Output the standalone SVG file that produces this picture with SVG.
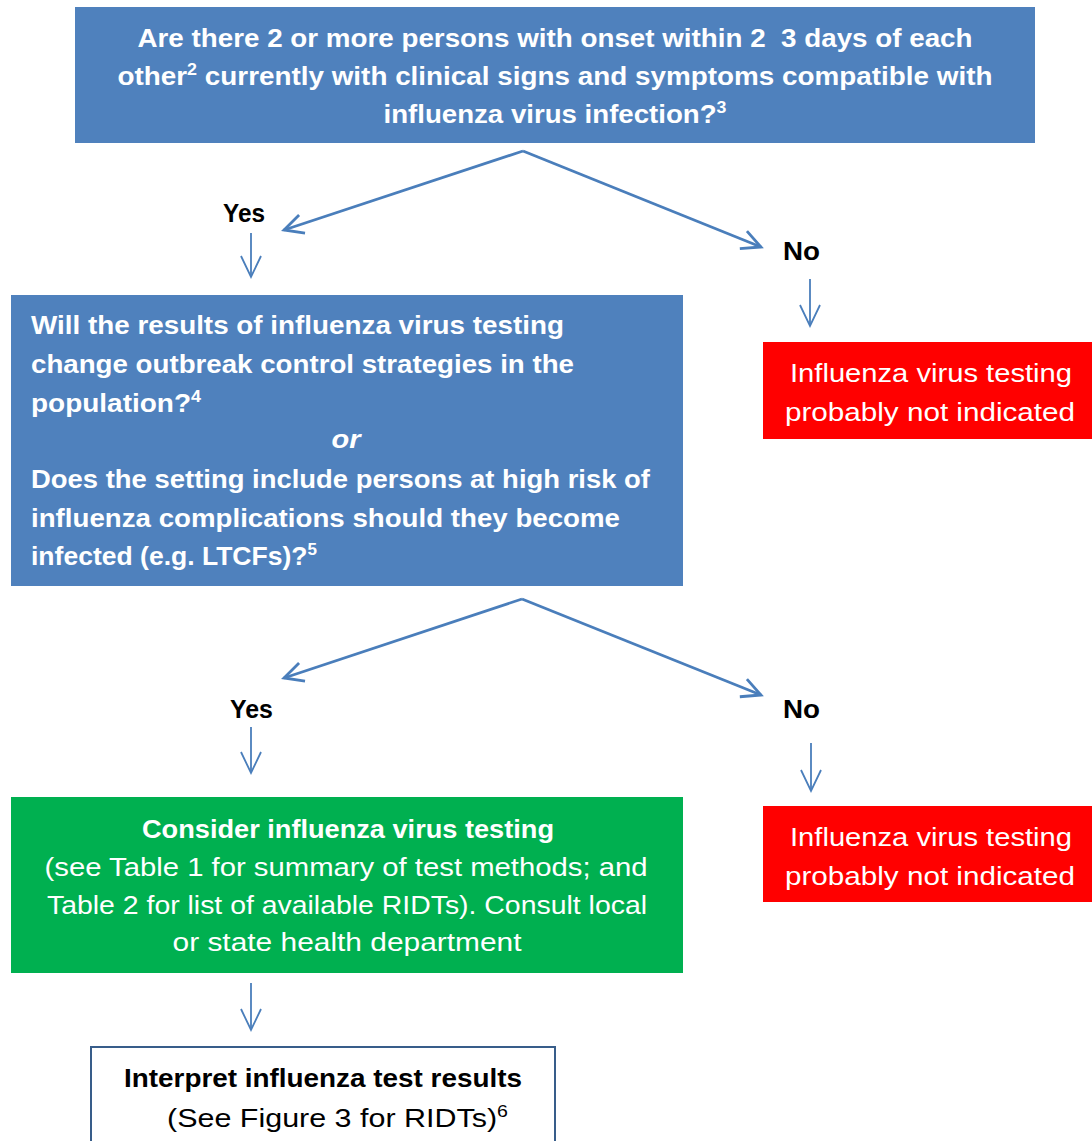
<svg xmlns="http://www.w3.org/2000/svg" width="1092" height="1141" viewBox="0 0 1092 1141">
<defs>
<style>
.t{font-family:"Liberation Sans",Arial,sans-serif;fill:#fff;font-size:26.5px}
.b{font-weight:bold}
.k{fill:#000}
.c{text-anchor:middle}
.sup{font-size:17px}
.con{stroke:#4A7EBB;fill:none;stroke-linejoin:miter}
.diag{stroke-width:2.8}
.down{stroke-width:1.8}
</style>
<marker id="ah" markerUnits="userSpaceOnUse" markerWidth="40" markerHeight="40" refX="0" refY="0" orient="auto" overflow="visible" viewBox="-30 -20 40 40">
<path d="M -19 -9.5 L 0 0 L -19 9.5" fill="none" stroke="#4A7EBB" stroke-width="2.8"/>
</marker>
<marker id="ahs" markerUnits="userSpaceOnUse" markerWidth="40" markerHeight="40" refX="0" refY="0" orient="auto" overflow="visible" viewBox="-30 -20 40 40">
<path d="M -21 -10 L 0 0 L -21 10" fill="none" stroke="#4A7EBB" stroke-width="1.8"/>
</marker>
</defs>

<g id="q1">
<rect x="75" y="7" width="960" height="136" fill="#4F81BD"/>
<text class="t b c" x="555" y="47" textLength="835" lengthAdjust="spacingAndGlyphs">Are there 2 or more persons with onset within 2&#160; 3 days of each</text>
<text class="t b c" x="555" y="85" textLength="875" lengthAdjust="spacingAndGlyphs">other<tspan class="sup" dy="-10">2</tspan><tspan dy="10"> currently with clinical signs and symptoms compatible with</tspan></text>
<text class="t b c" x="555" y="123" textLength="343" lengthAdjust="spacingAndGlyphs">influenza virus infection?<tspan class="sup" dy="-10">3</tspan></text>
</g>

<g id="yes1"><text class="t b k" x="223" y="222" textLength="42" lengthAdjust="spacingAndGlyphs">Yes</text></g>
<g id="no1"><text class="t b k" x="783" y="260" textLength="37" lengthAdjust="spacingAndGlyphs">No</text></g>

<g id="q2">
<rect x="11" y="295" width="672" height="291" fill="#4F81BD"/>
<text class="t b" x="31" y="334" textLength="533" lengthAdjust="spacingAndGlyphs">Will the results of influenza virus testing</text>
<text class="t b" x="31" y="373" textLength="543" lengthAdjust="spacingAndGlyphs">change outbreak control strategies in the</text>
<text class="t b" x="31" y="412" textLength="170" lengthAdjust="spacingAndGlyphs">population?<tspan class="sup" dy="-10">4</tspan></text>
<text class="t b c" x="346" y="448" font-style="italic" textLength="29" lengthAdjust="spacingAndGlyphs">or</text>
<text class="t b" x="31" y="488" textLength="619" lengthAdjust="spacingAndGlyphs">Does the setting include persons at high risk of</text>
<text class="t b" x="31" y="527" textLength="589" lengthAdjust="spacingAndGlyphs">influenza complications should they become</text>
<text class="t b" x="31" y="565" textLength="286" lengthAdjust="spacingAndGlyphs">infected (e.g. LTCFs)?<tspan class="sup" dy="-10">5</tspan></text>
</g>

<g id="notind1">
<rect x="763" y="342" width="329" height="97" fill="#FF0000"/>
<text class="t c" x="931" y="382" textLength="282" lengthAdjust="spacingAndGlyphs">Influenza virus testing</text>
<text class="t c" x="930" y="421" textLength="290" lengthAdjust="spacingAndGlyphs">probably not indicated</text>
</g>

<g id="yes2"><text class="t b k" x="230" y="718" textLength="43" lengthAdjust="spacingAndGlyphs">Yes</text></g>
<g id="no2"><text class="t b k" x="783" y="718" textLength="37" lengthAdjust="spacingAndGlyphs">No</text></g>

<g id="consider">
<rect x="11" y="797" width="672" height="176" fill="#00B050"/>
<text class="t b c" x="348" y="838" textLength="412" lengthAdjust="spacingAndGlyphs">Consider influenza virus testing</text>
<text class="t c" x="346" y="876" textLength="603" lengthAdjust="spacingAndGlyphs">(see Table 1 for summary of test methods; and</text>
<text class="t c" x="347" y="914" textLength="600" lengthAdjust="spacingAndGlyphs">Table 2 for list of available RIDTs). Consult local</text>
<text class="t c" x="347" y="951" textLength="349" lengthAdjust="spacingAndGlyphs">or state health department</text>
</g>

<g id="notind2">
<rect x="763" y="806" width="329" height="96" fill="#FF0000"/>
<text class="t c" x="931" y="846" textLength="282" lengthAdjust="spacingAndGlyphs">Influenza virus testing</text>
<text class="t c" x="930" y="885" textLength="290" lengthAdjust="spacingAndGlyphs">probably not indicated</text>
</g>

<g id="interpret">
<rect x="91" y="1047" width="464" height="110" fill="#fff" stroke="#385D8A" stroke-width="2"/>
<text class="t b k" x="124" y="1087" textLength="398" lengthAdjust="spacingAndGlyphs">Interpret influenza test results</text>
<text class="t k" x="167" y="1127" textLength="341" lengthAdjust="spacingAndGlyphs">(See Figure 3 for RIDTs)<tspan class="sup" dy="-10">6</tspan></text>
</g>

<g id="connectors">
<line class="con diag" x1="523" y1="151" x2="284" y2="230" marker-end="url(#ah)"/>
<line class="con diag" x1="523" y1="151" x2="761" y2="247" marker-end="url(#ah)"/>
<line class="con down" x1="251" y1="233" x2="251" y2="277" marker-end="url(#ahs)"/>
<line class="con down" x1="810" y1="279" x2="810" y2="326" marker-end="url(#ahs)"/>
<line class="con diag" x1="522" y1="599" x2="284" y2="678" marker-end="url(#ah)"/>
<line class="con diag" x1="522" y1="599" x2="761" y2="695" marker-end="url(#ah)"/>
<line class="con down" x1="251" y1="727" x2="251" y2="773" marker-end="url(#ahs)"/>
<line class="con down" x1="811" y1="743" x2="811" y2="791" marker-end="url(#ahs)"/>
<line class="con down" x1="251" y1="983" x2="251" y2="1030" marker-end="url(#ahs)"/>
</g>
</svg>
